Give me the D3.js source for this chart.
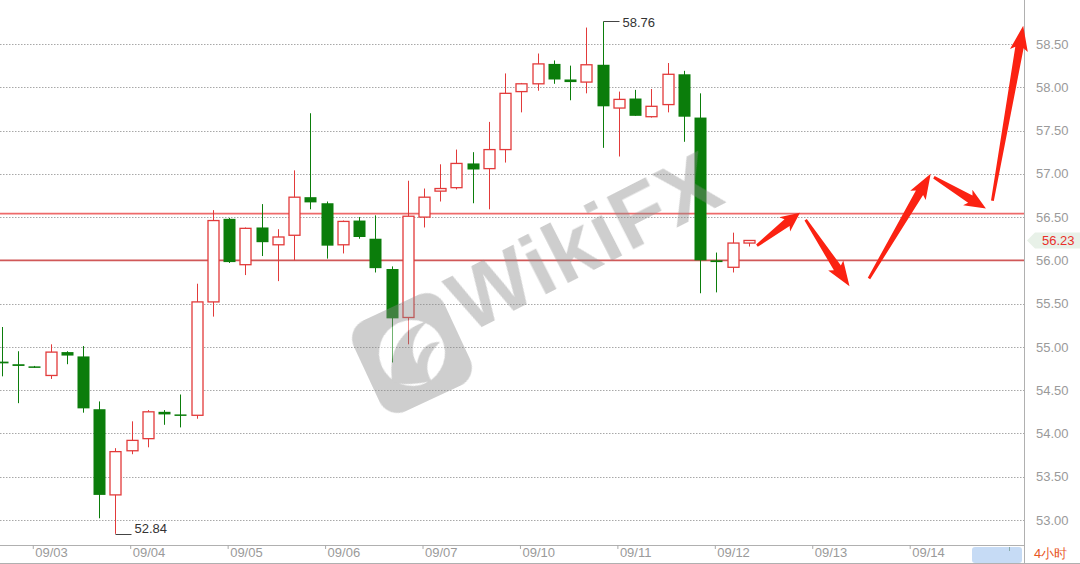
<!DOCTYPE html>
<html><head><meta charset="utf-8">
<script src="https://cdn.jsdelivr.net/npm/d3@7"></script>
<style>html,body{margin:0;padding:0;background:#fff;}svg{display:block;font-family:"Liberation Sans",Arial,sans-serif;}</style>
</head><body><svg id="c" width="1080" height="564"></svg>
<script>
// ---- data (4-hour candles) ----
const opens  = [54.83,54.80,54.775,54.67,54.94,54.89,54.28,53.29,53.80,53.94,54.25,54.22,54.21,55.52,56.48,55.95,56.38,56.18,56.29,56.73,56.66,56.18,56.46,56.25,55.90,55.34,56.50,56.80,56.84,57.12,57.06,57.28,57.95,58.04,58.27,58.09,58.06,58.26,57.76,57.87,57.66,57.80,58.15,57.65,56.00,55.92,56.20];
const highs  = [55.23,54.95,54.78,55.03,54.95,55.01,54.37,53.83,54.14,54.27,54.27,54.45,55.73,56.58,56.49,56.38,56.65,56.36,57.04,57.70,56.68,56.46,56.50,56.52,55.93,56.92,56.83,57.11,57.28,57.25,57.60,58.16,58.05,58.39,58.31,58.25,58.69,58.76,57.95,57.97,57.98,58.28,58.19,57.93,56.09,56.32,56.23];
const lows   = [54.66,54.35,54.76,54.63,54.80,54.24,53.02,52.84,53.76,53.84,54.10,54.07,54.17,55.35,55.97,55.83,56.05,55.76,56.00,56.59,56.02,56.08,56.25,55.86,54.82,55.03,56.38,56.68,56.82,56.66,56.59,57.13,57.71,57.96,58.04,57.85,57.93,57.30,57.20,57.67,57.65,57.71,57.37,55.62,55.63,55.86,56.16];
const closes = [54.81,54.78,54.77,54.94,54.90,54.29,53.29,53.79,53.92,54.25,54.22,54.21,55.52,56.46,55.98,56.37,56.21,56.27,56.73,56.67,56.17,56.45,56.27,55.91,55.33,56.51,56.73,56.83,57.12,57.05,57.28,57.93,58.04,58.27,58.09,58.06,58.26,57.78,57.86,57.67,57.78,58.15,57.66,56.00,55.98,56.20,56.23];
const dateLabels = ["09/03","09/04","09/05","09/06","09/07","09/10","09/11","09/12","09/13","09/14"];
const dateIndex  = [2,8,14,20,26,32,38,44,50,56];
const yTicks = [53.0,53.5,54.0,54.5,55.0,55.5,56.0,56.5,57.0,57.5,58.0,58.5];
const levels = [56.54, 56.00];
const lastPrice = 56.23;
const highMark = {i:37, v:58.76, label:"58.76"};
const lowMark  = {i:7,  v:52.84, label:"52.84"};
// hand-drawn projection arrows: [fromIndex, fromPrice, toIndex, toPrice]
const arrows = [[46.5,56.17,49.15,56.55],[49.5,56.47,52.2,55.70],[53.4,55.79,57.2,57.00],[57.4,56.96,60.6,56.60],[61.0,56.69,62.9,58.71]];
const periodLabel = "4小时";

// ---- scales ----
const svg = d3.select("#c");
const plotR = 1024, axisY = 545;
const x = d3.scaleLinear().domain([0,46]).range([1.8,748.8]);
const y = d3.scaleLinear().domain([53,58.5]).range([520,44]);

// grid
svg.append("g").selectAll("line").data(yTicks).join("line")
  .attr("x1",0).attr("x2",plotR).attr("y1",d=>Math.round(y(d))+0.5).attr("y2",d=>Math.round(y(d))+0.5)
  .attr("stroke","#a8a8a8").attr("stroke-width",1).attr("stroke-dasharray","1.5,1.5");

// right axis
const yAxis = d3.axisRight(y).tickValues(yTicks).tickFormat(d3.format(".2f")).tickSize(0).tickPadding(12);
const ga = svg.append("g").attr("transform",`translate(${plotR},0)`).call(yAxis);
ga.select(".domain").remove();
ga.selectAll("text").attr("fill","#9a9a9a").attr("font-size",13).attr("font-family","Liberation Sans, Arial, sans-serif");
svg.append("line").attr("x1",plotR+0.5).attr("x2",plotR+0.5).attr("y1",0).attr("y2",564).attr("stroke","#b0b0b0");

// bottom axis
svg.append("line").attr("x1",0).attr("x2",plotR).attr("y1",axisY+0.5).attr("y2",axisY+0.5).attr("stroke","#b0b0b0");
svg.append("line").attr("x1",0).attr("x2",1080).attr("y1",563.5).attr("y2",563.5).attr("stroke","#b0b0b0");
svg.append("rect").attr("x",972).attr("y",547).attr("width",50).attr("height",16).attr("rx",3).attr("fill","#c6dbf5");
svg.append("line").attr("x1",1009.5).attr("x2",1009.5).attr("y1",547).attr("y2",551).attr("stroke","#8aa");
const xAxis = d3.axisBottom(x).tickValues(dateIndex).tickFormat((d,i)=>dateLabels[i]).tickSize(4).tickPadding(0);
const gx = svg.append("g").attr("transform",`translate(-1.5,${axisY})`).call(xAxis);
gx.select(".domain").remove();
gx.selectAll("line").attr("stroke","#aaa");
gx.selectAll("text").attr("fill","#9a9a9a").attr("font-size",13).attr("text-anchor","start").attr("dx",2).attr("y",3).attr("dy","0.71em");
svg.append("text").attr("x",1034).attr("y",558).attr("fill","#e8561f").attr("font-size",13).text(periodLabel);

// level lines
svg.append("g").selectAll("line").data(levels).join("line")
  .attr("x1",0).attr("x2",plotR).attr("y1",d=>y(d)).attr("y2",d=>y(d))
  .attr("stroke",(d,i)=>i===0?"#ee6a6a":"#d05858").attr("stroke-width",1.6);

// candles
const idx = d3.range(opens.length);
const bw = 11;
const green = "#0b7d0b", red = "#e23a3a";
const cg = svg.append("g");
idx.forEach(i=>{
  const o=opens[i], c=closes[i], up=c>o;
  const col = up?red:green;
  const cx = Math.round(x(i))+0.5;
  const top = y(Math.max(o,c)), bot = y(Math.min(o,c));
  cg.append("line").attr("x1",cx).attr("x2",cx).attr("y1",y(highs[i])).attr("y2",y(lows[i]))
    .attr("stroke",col).attr("stroke-width",1);
  const h = Math.max(bot-top, 1.5);
  if(up){
    cg.append("rect").attr("x",cx-bw/2).attr("y",top).attr("width",bw).attr("height",h)
      .attr("fill","#fff").attr("stroke",col).attr("stroke-width",1.3);
  } else {
    cg.append("rect").attr("x",cx-bw/2-0.5).attr("y",top).attr("width",bw+1).attr("height",h).attr("fill",col);
  }
});

// high / low markers
[highMark, lowMark].forEach(m=>{
  const cx = Math.round(x(m.i))+0.5, yy = Math.round(y(m.v))+0.5;
  svg.append("line").attr("x1",cx).attr("x2",cx+16).attr("y1",yy).attr("y2",yy).attr("stroke","#444").attr("stroke-width",1);
  svg.append("text").attr("x",cx+19).attr("y",m===highMark?yy+5:yy-2).attr("fill","#333").attr("font-size",13).text(m.label);
});

// watermark
const wm = svg.append("g").attr("opacity",0.42).attr("pointer-events","none");
const lg = wm.append("g").attr("transform","translate(412,353) rotate(-25)");
lg.append("rect").attr("x",-50).attr("y",-50).attr("width",100).attr("height",100).attr("rx",20).attr("fill","#8a8a8a");
lg.append("circle").attr("r",33).attr("fill","#fff");
lg.append("path").attr("d","M-30,18 C-22,-10 0,-28 28,-22 C10,-18 -2,-4 0,12 C8,0 20,-4 30,2 C12,8 4,20 6,34 C-8,30 -22,26 -30,18 Z").attr("fill","#8a8a8a");
wm.append("text").attr("transform","translate(468,334) rotate(-27)").attr("font-size",86).attr("font-weight","bold")
  .attr("font-family","Liberation Sans, Arial, sans-serif").attr("fill","#8a8a8a").attr("letter-spacing",1).text("WikiFX");

// arrows
function arrowPath(x1,y1,x2,y2){
  const dx=x2-x1, dy=y2-y1, L=Math.hypot(dx,dy), ux=dx/L, uy=dy/L, nx=-uy, ny=ux;
  const hl=Math.min(22,L*0.3), w0=1.4, w1=4.2, hw=9;
  const bx=x2-ux*hl, by=y2-uy*hl;
  const p=[[x1+nx*w0,y1+ny*w0],[bx+nx*w1,by+ny*w1],[bx+nx*hw-ux*3,by+ny*hw-uy*3],[x2,y2],
           [bx-nx*hw-ux*3,by-ny*hw-uy*3],[bx-nx*w1,by-ny*w1],[x1-nx*w0,y1-ny*w0]];
  return "M"+p.map(q=>q[0].toFixed(1)+","+q[1].toFixed(1)).join("L")+"Z";
}
svg.append("g").selectAll("path").data(arrows).join("path")
  .attr("d",a=>arrowPath(x(a[0]),y(a[1]),x(a[2]),y(a[3]))).attr("fill","#fb2212");

// last price tag
const ly = y(lastPrice);
svg.append("path").attr("d",`M1027,${ly}L1035,${ly-8}L1080,${ly-8}L1080,${ly+8}L1035,${ly+8}Z`).attr("fill","#e8f1e8");
svg.append("text").attr("x",1042).attr("y",ly+5).attr("fill","#e8302a").attr("font-size",13).text(lastPrice.toFixed(2));
</script></body></html>
